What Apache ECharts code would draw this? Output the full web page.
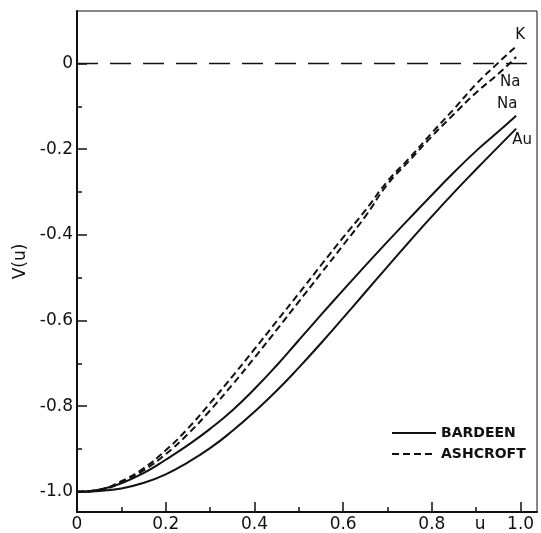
<!DOCTYPE html>
<html>
<head>
<meta charset="utf-8">
<script src="https://cdn.jsdelivr.net/npm/echarts@6/dist/echarts.min.js"></script>
<style>
  html, body { margin: 0; padding: 0; background: #fff; }
  #chart { width: 541px; height: 533px; }
</style>
</head>
<body>
<div id="chart"></div>
<script>
// u values shared by all curves
const uValues = [0, 0.05, 0.1, 0.15, 0.2, 0.25, 0.3, 0.35, 0.4, 0.45, 0.5,
  0.55, 0.6, 0.65, 0.7, 0.75, 0.8, 0.85, 0.9, 0.95, 0.99];

// Bardeen (solid)
const bardeenNa = [-1.0, -0.995, -0.98, -0.956, -0.925, -0.891, -0.853, -0.81, -0.76, -0.705, -0.646,
  -0.587, -0.529, -0.472, -0.416, -0.361, -0.307, -0.254, -0.204, -0.159, -0.122];
const bardeenAu = [-1.0, -0.998, -0.992, -0.979, -0.959, -0.931, -0.898, -0.858, -0.813, -0.764, -0.71,
  -0.653, -0.594, -0.534, -0.474, -0.415, -0.357, -0.301, -0.247, -0.194, -0.152];

// Ashcroft (dashed)
const ashcroftK = [-1.0, -0.995, -0.975, -0.945, -0.903, -0.852, -0.793, -0.731, -0.667, -0.602, -0.537,
  -0.471, -0.406, -0.343, -0.275, -0.22, -0.162, -0.106, -0.048, 0.002, 0.04];
const ashcroftNa = [-1.0, -0.996, -0.978, -0.95, -0.912, -0.865, -0.81, -0.75, -0.687, -0.622, -0.556,
  -0.49, -0.424, -0.357, -0.282, -0.226, -0.17, -0.118, -0.068, -0.024, 0.015];

const xMinor = [0.1, 0.3, 0.5, 0.7, 0.9];
const yMinor = [-0.9, -0.7, -0.5, -0.3, -0.1];

const font = 'DejaVu Sans';
const pairs = ys => uValues.map((u, i) => [u, ys[i]]);
const fmt = v => (Math.abs(v) < 1e-9 ? '0' : v.toFixed(1));

const chart = echarts.init(document.getElementById('chart'));

function curve(name, ys, dashed, label, offset) {
  return {
    type: 'line',
    name: name,
    data: pairs(ys),
    smooth: true,
    showSymbol: false,
    symbol: 'none',
    silent: true,
    lineStyle: { color: '#111', width: 2, type: dashed ? [7, 4] : 'solid' },
    itemStyle: { color: '#111' },
    endLabel: {
      show: true,
      formatter: label,
      color: '#111',
      fontFamily: font,
      fontSize: 15,
      distance: 0,
      align: 'center',
      verticalAlign: 'middle',
      offset: offset
    }
  };
}

const axisBase = {
  type: 'value',
  splitLine: { show: false },
  axisLine: { show: false, onZero: false },
  axisTick: { show: false },
  axisLabel: { show: false }
};

chart.setOption({
  animation: false,
  backgroundColor: '#fff',
  grid: {
    left: 77,
    right: 4,
    top: 11,
    bottom: 21,
    outerBoundsMode: 'none',
    containLabel: false,
    show: true,
    borderColor: '#111',
    borderWidth: 1
  },
  xAxis: [
    {
      type: 'value',
      min: 0,
      max: 1.037,
      splitNumber: 5,
      position: 'bottom',
      splitLine: { show: false },
      axisLine: { show: true, onZero: false, lineStyle: { color: '#111', width: 2 } },
      axisTick: { show: true, inside: true, length: 10, lineStyle: { color: '#111', width: 1.5 } },
      axisLabel: { show: true, showMaxLabel: false, formatter: fmt, margin: 4, color: '#111', fontFamily: font, fontSize: 17 }
    },
    Object.assign({}, axisBase, {
      min: 0,
      max: 1.037,
      position: 'bottom',
      offset: 0,
      axisTick: { show: true, inside: true, length: 5, customValues: xMinor, lineStyle: { color: '#111', width: 1.5 } },
      axisLabel: { show: true, customValues: [0.9], formatter: () => 'u', margin: 4, color: '#111', fontFamily: font, fontSize: 17, padding: [0, 0, 0, 8] }
    })
  ],
  yAxis: [
    {
      type: 'value',
      min: -1.047,
      max: 0.1225,
      splitNumber: 5,
      position: 'left',
      name: 'V(u)',
      nameLocation: 'middle',
      nameGap: 47,
      nameTextStyle: { color: '#111', fontFamily: font, fontSize: 17 },
      splitLine: { show: false },
      axisLine: { show: true, onZero: false, lineStyle: { color: '#111', width: 2 } },
      axisTick: { show: true, inside: true, length: 10, lineStyle: { color: '#111', width: 1.5 } },
      axisLabel: { show: true, showMinLabel: false, showMaxLabel: false, formatter: fmt, margin: 4, color: '#111', fontFamily: font, fontSize: 17 }
    },
    Object.assign({}, axisBase, {
      min: -1.047,
      max: 0.1225,
      position: 'left',
      offset: 0,
      axisTick: { show: true, inside: true, length: 5, customValues: yMinor, lineStyle: { color: '#111', width: 1.5 } }
    })
  ],
  legend: {
    orient: 'vertical',
    left: 386,
    top: 421,
    itemWidth: 44,
    itemHeight: 14,
    itemGap: 7,
    data: ['BARDEEN', 'ASHCROFT'],
    itemStyle: { opacity: 0 },
    textStyle: { color: '#111', fontFamily: font, fontSize: 14, fontWeight: 'bold' }
  },
  series: [
    curve('BARDEEN', bardeenNa, false, 'Na', [-9, -12]),
    curve('BARDEEN', bardeenAu, false, 'Au', [6, 12]),
    curve('ASHCROFT', ashcroftK, true, 'K', [4, -11]),
    Object.assign(curve('ASHCROFT', ashcroftNa, true, 'Na', [-6, 25]), {
      markLine: {
        silent: true,
        symbol: 'none',
        label: { show: false },
        lineStyle: { color: '#111', width: 1.3, type: [21, 12] },
        data: [{ yAxis: 0 }]
      }
    })
  ]
});
</script>
</body>
</html>
